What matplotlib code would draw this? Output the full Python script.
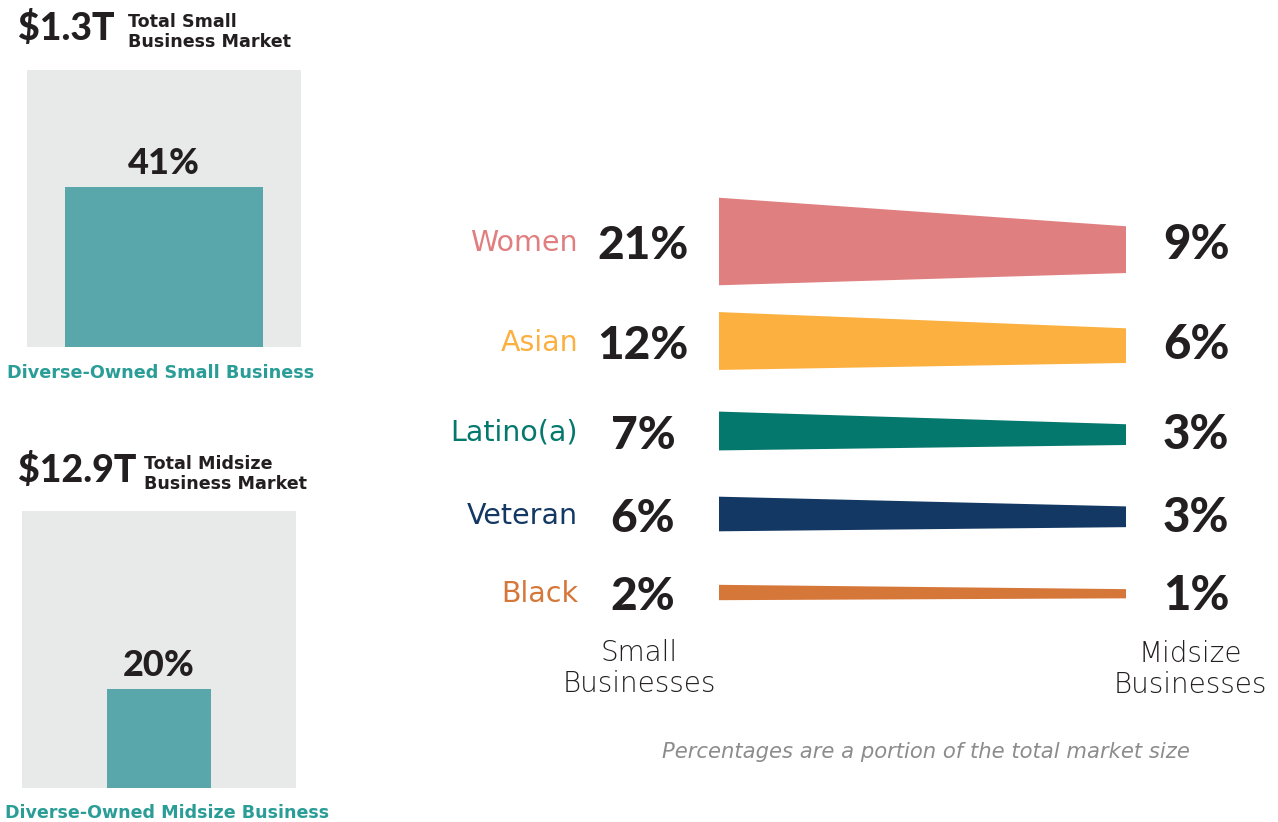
import numpy as np
import matplotlib.pyplot as plt

# market totals (left panels)
totals = ['$1.3T', '$12.9T']
total_labels = ['Total Small\nBusiness Market', 'Total Midsize\nBusiness Market']
diverse_share = [41, 20]
diverse_labels = ['Diverse-Owned Small Business', 'Diverse-Owned Midsize Business']

# share by owner group (right panel)
groups = ['Women', 'Asian', 'Latino(a)', 'Veteran', 'Black']
small_pct = [21, 12, 7, 6, 2]
midsize_pct = [9, 6, 3, 3, 1]
group_colors = ['#E07F80', '#FBB040', '#05786D', '#133863', '#D6773A']

W, H = 1278, 822
DARK = '#231F20'
TEAL = '#2A9D97'
BIG = dict(family=['Lato', 'DejaVu Sans'], fontweight='black', color=DARK)


def px(x, y):
    return x / W, 1 - y / H


fig = plt.figure(figsize=(W / 100, H / 100), dpi=100)

# ---- left: diverse-owned share of each market ----
box_pos = [(27, 70), (22, 511)]
ymax = [71, 56]
bar_w = [0.726, 0.383]
head_x = [(18, 128), (18, 144)]
head_y = [28, 470]
label_xy = [(161, 373), (167, 813)]
label_fs = [12.7, 12.6]
for i in range(2):
    bx, by = box_pos[i]
    ax = fig.add_axes([bx / W, 1 - (by + 277) / H, 274 / W, 277 / H])
    ax.set_facecolor('#E8EAE9')
    ax.bar([0], [diverse_share[i]], width=bar_w[i], color='#59A7AB')
    ax.set_xlim(-0.5, 0.5)
    ax.set_ylim(0, ymax[i])
    ax.annotate(f'{diverse_share[i]}%', (0, diverse_share[i]), xytext=(0, 13),
                textcoords='offset pixels', ha='center', va='baseline',
                fontsize=26, **BIG)
    for s in ax.spines.values():
        s.set_visible(False)
    ax.set_xticks([])
    ax.set_yticks([])

    fig.text(*px(head_x[i][0], head_y[i]), totals[i], ha='left', va='center',
             fontsize=27, **BIG)
    fig.text(*px(head_x[i][1], head_y[i] + 4), total_labels[i], ha='left', va='center',
             fontsize=12.6, fontweight='bold', color=DARK, linespacing=1.2)
    fig.text(*px(*label_xy[i]), diverse_labels[i], ha='center', va='center',
             fontsize=label_fs[i], fontweight='bold', color=TEAL)

# ---- right: tapered bands from small to midsize ----
axr = fig.add_axes([719 / W, 1 - 640 / H, 407 / W, 490 / H])
axr.set_xlim(0, 1)
axr.set_ylim(640, 150)
axr.axis('off')

row_y = [241.5, 341, 431, 514, 592.5]


def band_h(v):
    return 9.2 * np.power(v, 0.74)


for g, s, m, c, yc in zip(groups, small_pct, midsize_pct, group_colors, row_y):
    hl, hr = band_h(s), band_h(m)
    yr = yc + (hl - hr) * 0.2
    axr.fill([0, 1, 1, 0], [yc - hl / 2, yr - hr / 2, yr + hr / 2, yc + hl / 2],
             color=c, lw=0)
    axr.annotate(g, (0, yc), xytext=(-141, -10), textcoords='offset pixels',
                 ha='right', va='baseline', fontsize=20.5, color=c, annotation_clip=False)
    axr.annotate(f'{s}%', (0, yc), xytext=(-76, -18), textcoords='offset pixels',
                 ha='center', va='baseline', fontsize=33, annotation_clip=False, **BIG)
    axr.annotate(f'{m}%', (1, yc), xytext=(37, -18), textcoords='offset pixels',
                 ha='left', va='baseline', fontsize=34, annotation_clip=False, **BIG)

fig.text(*px(639, 639), 'Small\nBusinesses', ha='center', va='top', fontsize=20,
         fontweight='light', color=DARK, linespacing=1.15)
fig.text(*px(1190, 640), 'Midsize\nBusinesses', ha='center', va='top', fontsize=20,
         fontweight='light', color=DARK, linespacing=1.15)
fig.text(*px(926, 752), 'Percentages are a portion of the total market size',
         ha='center', va='center', fontsize=15.2, style='italic', fontweight='light',
         color='#8C8C8C')

fig.savefig('out.png', dpi=100)
